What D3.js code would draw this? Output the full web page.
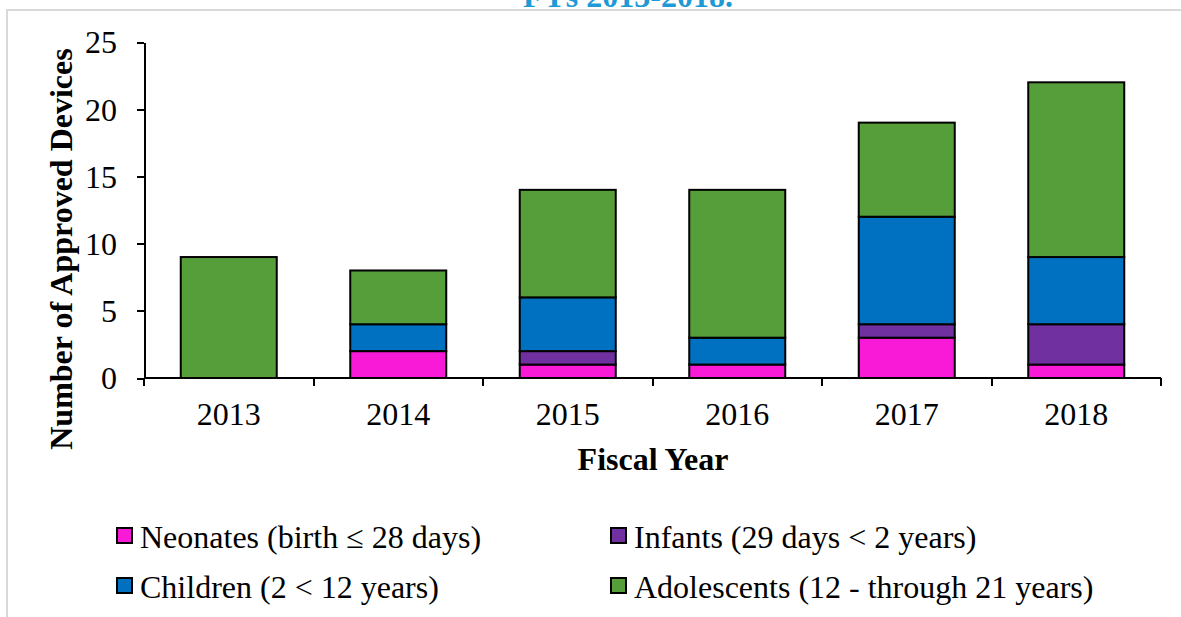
<!DOCTYPE html>
<html>
<head>
<meta charset="utf-8">
<script src="https://d3js.org/d3.v7.min.js"></script>
<style>
body { margin: 0; background: #fff; }
svg text { font-family: "Liberation Serif", "Times New Roman", serif; fill: #000; }
.axis path, .axis line { stroke: #000; stroke-width: 2; shape-rendering: crispEdges; }
</style>
</head>
<body>
<svg id="chart" width="1181" height="617"></svg>
<script>
// fiscal years on the x axis
var years = ["2013", "2014", "2015", "2016", "2017", "2018"];
// stacked series, bottom to top
var neonates    = [0, 2, 1, 1, 3, 1];
var infants     = [0, 0, 1, 0, 1, 3];
var children    = [0, 2, 4, 2, 8, 5];
var adolescents = [9, 4, 8, 11, 7, 13];
var yTicks = [0, 5, 10, 15, 20, 25];

var seriesNames = ["Neonates (birth \u2264 28 days)", "Infants (29 days < 2 years)",
                   "Children (2 < 12 years)", "Adolescents (12 - through 21 years)"];
var seriesColors = ["#f81ad6", "#7030a0", "#0070c0", "#559e3a"];
var seriesKeys = ["neo", "inf", "chi", "ado"];

var rows = years.map(function(y, i) {
  return { year: y, neo: neonates[i], inf: infants[i], chi: children[i], ado: adolescents[i] };
});

var svg = d3.select("#chart");

// outer frame (light gray, runs off the right/bottom edge)
svg.append("rect")
  .attr("x", 7).attr("y", 10)
  .attr("width", 1200).attr("height", 640)
  .attr("fill", "none")
  .attr("stroke", "#d9d9d9")
  .attr("stroke-width", 2);

// title, mostly cut off at the top
svg.append("text")
  .attr("x", 628).attr("y", 7)
  .attr("text-anchor", "middle")
  .attr("font-size", "32px")
  .attr("font-weight", "bold")
  .style("fill", "#1f9ad6")
  .text("FYs 2013-2018.");

var pLeft = 144, pRight = 1161, pTop = 42, pBottom = 378;

var x = d3.scaleBand().domain(years).range([pLeft, pRight]).paddingInner(0.4336).paddingOuter(0.2168);
var xOuter = d3.scaleBand().domain(years).range([pLeft, pRight]);
var y = d3.scaleLinear().domain([0, 25]).range([pBottom, pTop]);

var stack = d3.stack().keys(seriesKeys);
var layers = stack(rows);

svg.selectAll("g.layer")
  .data(layers)
  .enter().append("g")
  .attr("class", "layer")
  .attr("fill", function(d, i) { return seriesColors[i]; })
  .selectAll("rect")
  .data(function(d) { return d.filter(function(p) { return p[1] - p[0] > 0; }); })
  .enter().append("rect")
  .attr("x", function(d) { return x(d.data.year); })
  .attr("y", function(d) { return y(d[1]); })
  .attr("width", x.bandwidth())
  .attr("height", function(d) { return y(d[0]) - y(d[1]); })
  .attr("stroke", "#000")
  .attr("stroke-width", 2);

// y axis
var yAxis = svg.append("g")
  .attr("class", "axis")
  .attr("transform", "translate(" + pLeft + ",0)")
  .call(d3.axisLeft(y).tickValues(yTicks).tickSize(7).tickSizeOuter(0));
yAxis.selectAll("text").attr("font-size", "32px").attr("x", -27).attr("dy", "0.34em");

// x axis: ticks at category boundaries
var xAxis = svg.append("g")
  .attr("class", "axis")
  .attr("transform", "translate(0," + pBottom + ")");
xAxis.append("line")
  .attr("x1", pLeft).attr("x2", pRight)
  .attr("stroke", "#000").attr("stroke-width", 2);
var bounds = years.map(function(d) { return xOuter(d); }).concat([pRight]);
xAxis.selectAll("line.tick")
  .data(bounds)
  .enter().append("line")
  .attr("class", "tick")
  .attr("x1", function(d) { return d; }).attr("x2", function(d) { return d; })
  .attr("y1", 0).attr("y2", 8)
  .attr("stroke", "#000").attr("stroke-width", 2);
xAxis.selectAll("text")
  .data(years)
  .enter().append("text")
  .attr("x", function(d) { return xOuter(d) + xOuter.bandwidth() / 2; })
  .attr("y", 47)
  .attr("text-anchor", "middle")
  .attr("font-size", "32px")
  .text(function(d) { return d; });

// axis titles
svg.append("text")
  .attr("transform", "translate(72,249) rotate(-90)")
  .attr("text-anchor", "middle")
  .attr("font-size", "32px")
  .attr("font-weight", "bold")
  .text("Number of Approved Devices");

svg.append("text")
  .attr("x", 653).attr("y", 470)
  .attr("text-anchor", "middle")
  .attr("font-size", "32px")
  .attr("font-weight", "bold")
  .text("Fiscal Year");

// legend, two columns
var legendPos = [[117, 528], [611, 528], [117, 578], [611, 578]];
var legend = svg.selectAll("g.legend")
  .data(seriesNames)
  .enter().append("g")
  .attr("class", "legend")
  .attr("transform", function(d, i) { return "translate(" + legendPos[i][0] + "," + legendPos[i][1] + ")"; });
legend.append("rect")
  .attr("width", 15).attr("height", 15)
  .attr("fill", function(d, i) { return seriesColors[i]; })
  .attr("stroke", "#000").attr("stroke-width", 2);
legend.append("text")
  .attr("x", 23).attr("y", 20)
  .attr("font-size", "32px")
  .text(function(d) { return d; });
</script>
</body>
</html>
